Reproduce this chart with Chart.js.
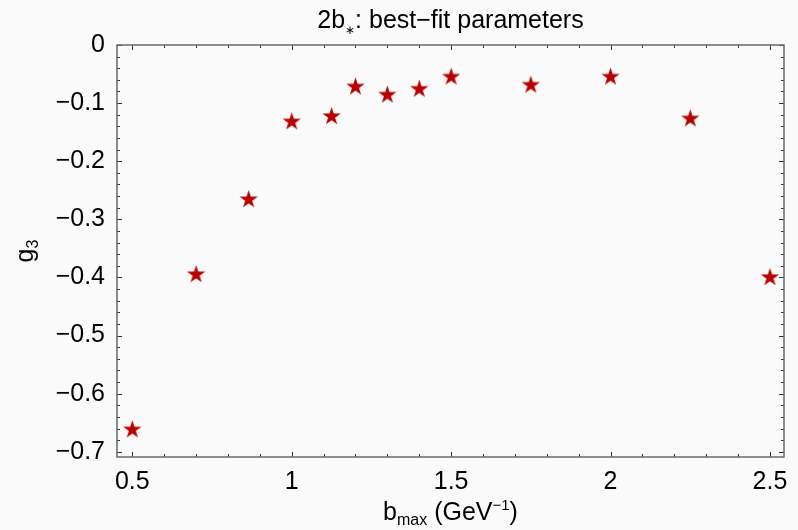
<!DOCTYPE html>
<html><head><meta charset="utf-8">
<script src="https://cdn.jsdelivr.net/npm/chart.js@4.4.1/dist/chart.umd.min.js"></script>
<style>html,body{margin:0;padding:0;background:#fafafa;}</style>
</head><body>
<canvas id="c" width="798" height="530"></canvas>
<script>
// ---- data ----
const bmax = [0.5, 0.7, 0.865, 1.0, 1.125, 1.2, 1.3, 1.4, 1.5, 1.75, 2.0, 2.25, 2.5];
const g3 = [-0.662, -0.395, -0.266, -0.132, -0.123, -0.072, -0.086, -0.076, -0.055, -0.069, -0.055, -0.127, -0.400];
const xTickValues = [0.5, 1, 1.5, 2, 2.5];
const yTickValues = [0, -0.1, -0.2, -0.3, -0.4, -0.5, -0.6, -0.7];
const xMinorValues = [0.6, 0.7, 0.8, 0.9, 1.1, 1.2, 1.3, 1.4, 1.6, 1.7, 1.8, 1.9, 2.1, 2.2, 2.3, 2.4];
const yMinorValues = [-0.02, -0.04, -0.06, -0.08, -0.12, -0.14, -0.16, -0.18, -0.22, -0.24, -0.26, -0.28,
  -0.32, -0.34, -0.36, -0.38, -0.42, -0.44, -0.46, -0.48, -0.52, -0.54, -0.56, -0.58, -0.62, -0.64, -0.66, -0.68];

const FONT = '"Liberation Sans", Arial, sans-serif';
const STAR_COLOR = '#b80000';

function makeStar(R) {
  const c = document.createElement('canvas');
  const s = Math.ceil(R * 2 + 3);
  c.width = s; c.height = s;
  const ctx = c.getContext('2d');
  const cx = s / 2, cy = s / 2, r = R * 0.382;
  ctx.beginPath();
  for (let i = 0; i < 10; i++) {
    const a = -Math.PI / 2 + i * Math.PI / 5;
    const rr = i % 2 === 0 ? R : r;
    const px = cx + rr * Math.cos(a), py = cy + rr * Math.sin(a);
    if (i === 0) ctx.moveTo(px, py); else ctx.lineTo(px, py);
  }
  ctx.closePath();
  ctx.fillStyle = STAR_COLOR;
  ctx.fill();
  return c;
}
const star = makeStar(9.6);

function drawParts(ctx, parts, cx, baseline) {
  let total = 0;
  parts.forEach(p => { ctx.font = p.size + 'px ' + FONT; p.w = ctx.measureText(p.t).width; total += p.w; });
  let x = cx - total / 2;
  ctx.textAlign = 'left'; ctx.textBaseline = 'alphabetic'; ctx.fillStyle = '#000';
  parts.forEach(p => { ctx.font = p.size + 'px ' + FONT; ctx.fillText(p.t, x, baseline + (p.dy || 0)); x += p.w; });
}

const framePlugin = {
  id: 'frame',
  afterDraw(chart) {
    const ctx = chart.ctx, a = chart.chartArea;
    const xs = chart.scales.x, ys = chart.scales.y;
    ctx.save();
    // ticks
    ctx.strokeStyle = '#333'; ctx.lineWidth = 1;
    ctx.beginPath();
    const xt = (v, len) => { const px = Math.round(xs.getPixelForValue(v)) + 0.5;
      ctx.moveTo(px, a.bottom); ctx.lineTo(px, a.bottom - len);
      ctx.moveTo(px, a.top); ctx.lineTo(px, a.top + len); };
    const yt = (v, len) => { const py = Math.round(ys.getPixelForValue(v)) + 0.5;
      ctx.moveTo(a.left, py); ctx.lineTo(a.left + len, py);
      ctx.moveTo(a.right, py); ctx.lineTo(a.right - len, py); };
    xTickValues.forEach(v => xt(v, 5)); xMinorValues.forEach(v => xt(v, 3));
    yTickValues.forEach(v => yt(v, 5)); yMinorValues.forEach(v => yt(v, 3));
    ctx.stroke();
    // frame
    ctx.strokeStyle = '#6a6a6a'; ctx.lineWidth = 1.5;
    ctx.strokeRect(a.left, a.top, a.right - a.left, a.bottom - a.top);
    // title
    const cx = (a.left + a.right) / 2;
    drawParts(ctx, [{t: '2b', size: 25}, {t: '\u2217', size: 12, dy: 6}, {t: ': best\u2212fit parameters', size: 25}], cx, 28);
    // x label
    drawParts(ctx, [{t: 'b', size: 25}, {t: 'max', size: 16, dy: 5}, {t: ' (GeV', size: 25}, {t: '\u22121', size: 15, dy: -10}, {t: ')', size: 25}], cx, 520);
    // y label
    ctx.translate(33, (a.top + a.bottom) / 2);
    ctx.rotate(-Math.PI / 2);
    drawParts(ctx, [{t: 'g', size: 25}, {t: '3', size: 16, dy: 5}], 0, 0);
    ctx.restore();
  }
};

new Chart(document.getElementById('c'), {
  type: 'scatter',
  data: { datasets: [{
    data: bmax.map((x, i) => ({x: x, y: g3[i]})),
    pointStyle: star, pointRadius: 10, pointHoverRadius: 10,
    backgroundColor: STAR_COLOR, borderColor: STAR_COLOR
  }]},
  options: {
    responsive: false, animation: false, devicePixelRatio: 1,
    layout: { padding: { top: 45, right: 14, left: 0, bottom: 0 } },
    plugins: { legend: { display: false }, title: { display: false }, tooltip: { enabled: false } },
    scales: {
      x: { type: 'linear', min: 0.452, max: 2.544,
        afterBuildTicks: s => { s.ticks = xTickValues.map(v => ({value: v})); },
        afterFit: s => { s.height = 73; },
        grid: { display: false, drawTicks: false }, border: { display: false },
        ticks: { font: { size: 25, family: FONT }, color: '#000', padding: 10, maxRotation: 0,
          callback: v => String(v) } },
      y: { type: 'linear', min: -0.709, max: 0,
        afterBuildTicks: s => { s.ticks = yTickValues.map(v => ({value: v})); },
        afterFit: s => { s.width = 117; },
        grid: { display: false, drawTicks: false }, border: { display: false },
        ticks: { font: { size: 25, family: FONT }, color: '#000', padding: 12,
          callback: v => v === 0 ? '0' : '\u2212' + Math.abs(v).toFixed(1) } }
    }
  },
  plugins: [framePlugin]
});
</script>
</body></html>
